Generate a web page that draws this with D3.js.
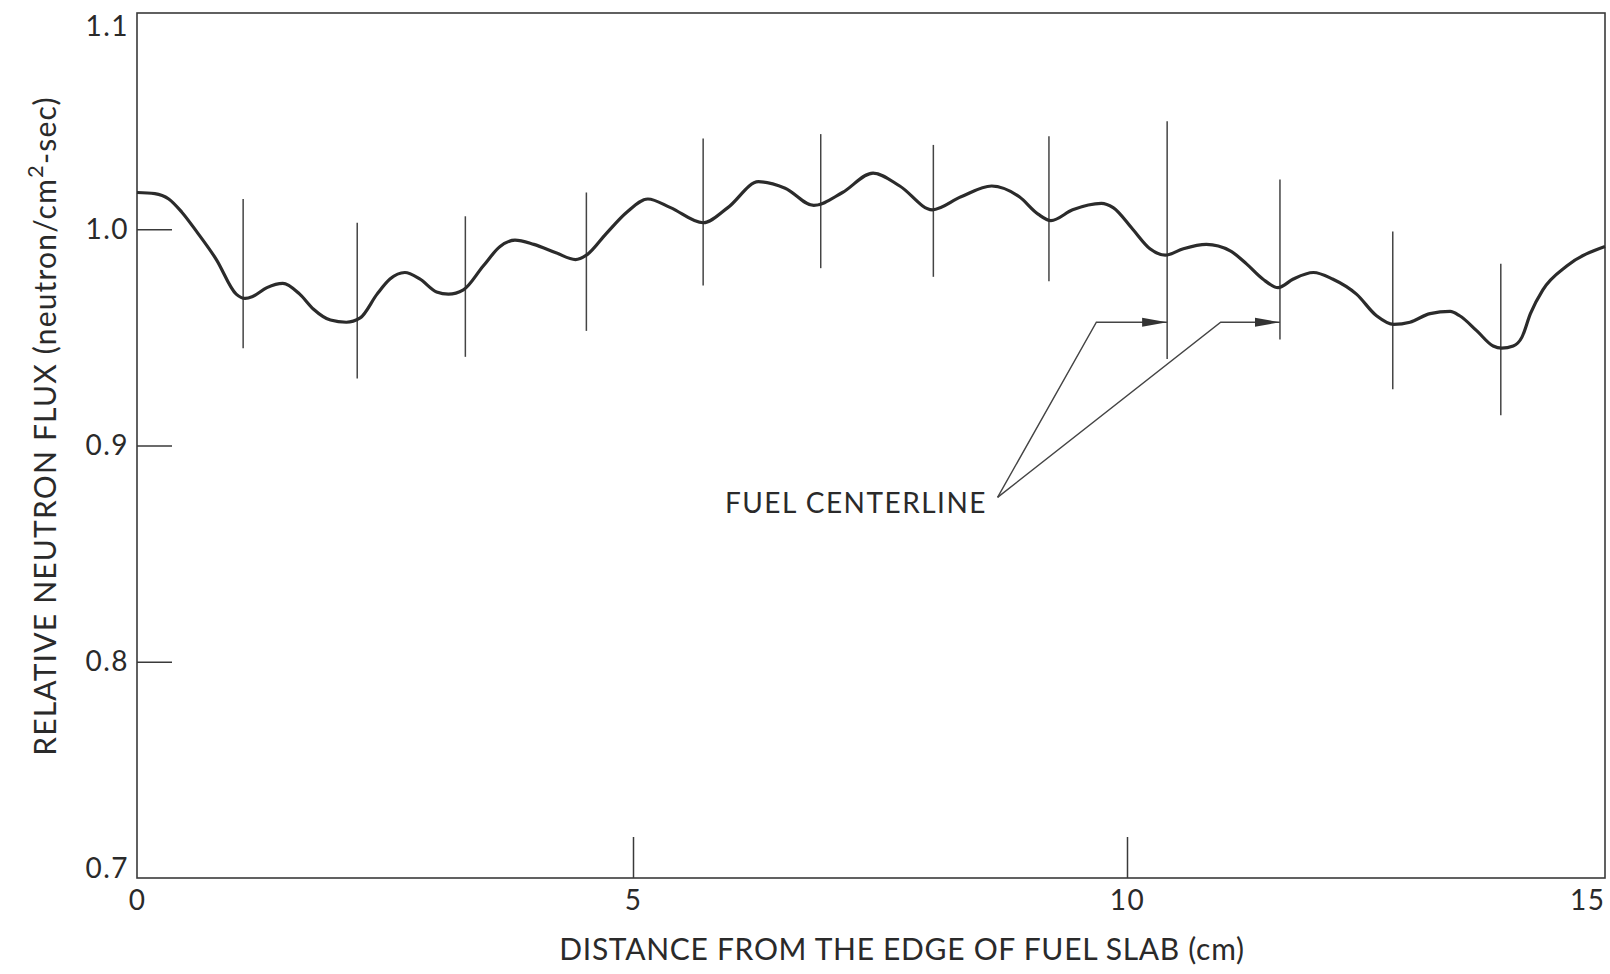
<!DOCTYPE html>
<meta charset="utf-8">
<style>
body { margin: 0; background: #fff; }
svg text { font-family: Lato, "Noto Sans", sans-serif; fill: #2a2a2a; }
.frame { fill: none; stroke: #3a3a3a; stroke-width: 1.6px; }
.flux { fill: none; stroke: #2b2b2b; stroke-width: 3.2px; stroke-linejoin: round; }
.centerline { stroke: #444; stroke-width: 1.5px; }
.leader { fill: none; stroke: #444; stroke-width: 1.4px; }
.axis line { stroke: #3a3a3a; stroke-width: 1.5px; }
.axis text { font-size: 28px; fill: #2a2a2a; letter-spacing: 1.5px; }
.title { font-size: 30px; letter-spacing: 0.7px; }
</style>
<svg width="1610" height="974"></svg>
<script src="https://d3js.org/d3.v7.min.js"></script>
<script>
// flux curve
var distance = [0, 0.18, 0.32, 0.45, 0.60, 0.80, 1.00, 1.09, 1.17, 1.31, 1.47,
    1.64, 1.78, 1.95, 2.11, 2.25, 2.42, 2.55, 2.70, 2.85, 3.02,
    3.14, 3.29, 3.49, 3.66, 3.81, 4.00, 4.23, 4.42, 4.53, 4.73,
    4.94, 5.15, 5.38, 5.71, 5.96, 6.27, 6.54, 6.83, 7.12, 7.43,
    7.70, 8.03, 8.32, 8.63, 8.91, 9.10, 9.23, 9.45, 9.74, 9.86,
    10.06, 10.24, 10.40, 10.59, 10.83, 11.08, 11.25, 11.42, 11.58, 11.74,
    11.95, 12.15, 12.40, 12.61, 12.79, 12.96, 13.17, 13.38, 13.48, 13.66,
    13.83, 13.92, 14.04, 14.13, 14.22, 14.35, 14.60, 15];
var flux = [1.017, 1.0165, 1.014, 1.008, 0.999, 0.986, 0.970, 0.968, 0.969, 0.973, 0.975,
    0.970, 0.963, 0.958, 0.957, 0.959, 0.970, 0.977, 0.980, 0.977, 0.971,
    0.970, 0.972, 0.983, 0.992, 0.995, 0.993, 0.989, 0.986, 0.988, 0.998,
    1.008, 1.014, 1.010, 1.003, 1.010, 1.022, 1.019, 1.011, 1.017, 1.026,
    1.020, 1.009, 1.015, 1.020, 1.015, 1.007, 1.004, 1.009, 1.012, 1.010,
    1.000, 0.991, 0.988, 0.991, 0.993, 0.990, 0.984, 0.977, 0.973, 0.977,
    0.980, 0.977, 0.970, 0.960, 0.956, 0.957, 0.961, 0.962, 0.960, 0.953,
    0.946, 0.945, 0.946, 0.950, 0.961, 0.972, 0.983, 0.992];

// fuel centerline markers
var centerPos    = [1.07, 2.22, 3.31, 4.53, 5.71, 6.90, 8.04, 9.21, 10.42, 11.60, 12.78, 13.91];
var centerTop    = [1.014, 1.003, 1.006, 1.017, 1.042, 1.044, 1.039, 1.043, 1.050, 1.023, 0.999, 0.984];
var centerBottom = [0.945, 0.931, 0.941, 0.953, 0.974, 0.982, 0.978, 0.976, 0.940, 0.949, 0.926, 0.914];

var xTicks = [0, 5, 10, 15];
var yTicks = [0.7, 0.8, 0.9, 1.0, 1.1];

// annotation
var noteText = "FUEL CENTERLINE";
var noteAt = [5.93, 0.869];
var leaderApex = [8.69, 0.876];
var leaderBend = [9.69, 10.98];
var leaderTarget = [10.42, 11.60];
var arrowFlux = 0.957;

var svg = d3.select("svg");

// the scanned x axis is not quite uniform, so map tick by tick
var x = d3.scaleLinear().domain(xTicks).range([137, 633, 1127, 1605]);
var y = d3.scaleLinear().domain([0.7, 1.1]).range([878, 13]);

svg.append("defs").append("marker")
    .attr("id", "arrow")
    .attr("markerUnits", "userSpaceOnUse")
    .attr("markerWidth", 26).attr("markerHeight", 12)
    .attr("viewBox", "0 -6 26 12")
    .attr("refX", 25).attr("refY", 0)
    .attr("orient", "auto")
  .append("path")
    .attr("d", "M0,-4.5L25,0L0,4.5Z")
    .attr("fill", "#333");

// y axis, ticks pointing inward
var yAxis = svg.append("g")
    .attr("class", "axis")
    .attr("transform", "translate(" + x(0) + ",0)")
    .call(d3.axisLeft(y).tickValues(yTicks).tickSize(-35).tickPadding(8)
        .tickFormat(d3.format(".1f")));
yAxis.select(".domain").remove();
yAxis.selectAll(".tick line").filter(function(d) { return d === 0.7 || d === 1.1; }).remove();
yAxis.selectAll(".tick text")
    .attr("y", function(d) { return d === 1.1 ? 14 : (d === 0.7 ? -9 : 0); });

// x axis
var xAxis = svg.append("g")
    .attr("class", "axis")
    .attr("transform", "translate(0," + y(0.7) + ")")
    .call(d3.axisBottom(x).tickValues(xTicks).tickSize(-41).tickPadding(12)
        .tickFormat(d3.format("d")));
xAxis.select(".domain").remove();
xAxis.selectAll(".tick line").filter(function(d) { return d === 0 || d === 15; }).remove();
xAxis.selectAll(".tick text")
    .attr("text-anchor", function(d) { return d === 15 ? "end" : "middle"; });

// frame
svg.append("rect")
    .attr("class", "frame")
    .attr("x", x(0)).attr("y", y(1.1))
    .attr("width", x(15) - x(0))
    .attr("height", y(0.7) - y(1.1));

// centerline markers
svg.append("g").selectAll("line")
    .data(centerPos)
    .enter().append("line")
    .attr("class", "centerline")
    .attr("x1", function(d) { return x(d); })
    .attr("x2", function(d) { return x(d); })
    .attr("y1", function(d, i) { return y(centerTop[i]); })
    .attr("y2", function(d, i) { return y(centerBottom[i]); });

// flux curve
var pts = distance.map(function(d, i) { return [d, flux[i]]; });
var line = d3.line()
    .curve(d3.curveMonotoneX)
    .x(function(d) { return x(d[0]); })
    .y(function(d) { return y(d[1]); });
svg.append("path")
    .datum(pts)
    .attr("class", "flux")
    .attr("d", line);

// leaders
var leaderLine = d3.line()
    .x(function(d) { return x(d[0]); })
    .y(function(d) { return y(d[1]); });
leaderBend.forEach(function(b, i) {
    svg.append("path")
        .attr("class", "leader")
        .attr("d", leaderLine([leaderApex, [b, arrowFlux], [leaderTarget[i], arrowFlux]]))
        .attr("marker-end", "url(#arrow)");
});

svg.append("text")
    .attr("x", x(noteAt[0]))
    .attr("y", y(noteAt[1]))
    .style("font-size", "28px")
    .style("letter-spacing", "1.5px")
    .text(noteText);

// axis titles
svg.append("text")
    .attr("class", "title")
    .attr("x", 902)
    .attr("y", 960)
    .attr("text-anchor", "middle")
    .text("DISTANCE FROM THE EDGE OF FUEL SLAB (cm)");

var yt = svg.append("text")
    .attr("class", "title")
    .style("letter-spacing", "1.2px")
    .attr("transform", "translate(56,426) rotate(-90)")
    .attr("text-anchor", "middle");
yt.append("tspan").text("RELATIVE NEUTRON FLUX (neutron/cm");
yt.append("tspan").attr("baseline-shift", "super").style("font-size", "22px").text("2");
yt.append("tspan").text("-sec)");
</script>
